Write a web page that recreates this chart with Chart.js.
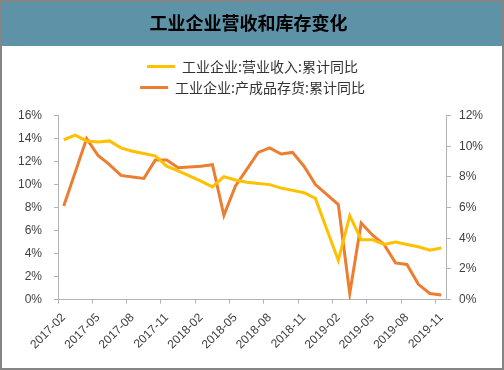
<!DOCTYPE html>
<html>
<head>
<meta charset="utf-8">
<script src="https://cdn.jsdelivr.net/npm/chart.js@4.4.0/dist/chart.umd.min.js"></script>
<style>
  body { margin: 0; background: #fff; }
</style>
</head>
<body>
<canvas id="chart" width="504" height="370"></canvas>
<script>
var months = [
  "2017-02", "2017-03", "2017-04", "2017-05", "2017-06", "2017-07", "2017-08",
  "2017-09", "2017-10", "2017-11", "2017-12", "2018-01", "2018-02", "2018-03",
  "2018-04", "2018-05", "2018-06", "2018-07", "2018-08", "2018-09", "2018-10",
  "2018-11", "2018-12", "2019-01", "2019-02", "2019-03", "2019-04", "2019-05",
  "2019-06", "2019-07", "2019-08", "2019-09", "2019-10", "2019-11",
];

// 工业企业:营业收入:累计同比 (left axis, %)
var revenue_yoy = [
  13.9, 14.3, 13.8, 13.7, 13.8, 13.2, 12.9, 12.7, 12.5, 11.6, 11.2,
  null, 10.3, 9.8, 10.7, 10.4, 10.2, 10.1, 10.0, 9.7, 9.5, 9.3, 8.8,
  null, 3.4, 7.3, 5.2, 5.2, 4.8, 5.0, 4.8, 4.6, 4.3, 4.5,
];

// 工业企业:产成品存货:累计同比 (right axis, %)
var inventory_yoy = [
  6.1, 8.3, 10.5, 9.4, 8.8, 8.1, 8.0, 7.9, 9.1, 9.1, 8.6,
  null, 8.7, 8.8, 5.5, 7.4, 8.5, 9.6, 9.9, 9.5, 9.6, 8.7, 7.5,
  null, 6.2, 0.4, 5.0, 4.2, 3.6, 2.4, 2.3, 1.0, 0.4, 0.3,
];

var shown_months = [
  "2017-02", "2017-05", "2017-08", "2017-11", "2018-02", "2018-05",
  "2018-08", "2018-11", "2019-02", "2019-05", "2019-08", "2019-11",
];

var axisColor = "#b3b3b3";
var tickFont = { family: "'Liberation Sans', Arial, sans-serif", size: 12 };

var frame = {
  id: "frame",
  beforeDraw: function (chart) {
    var c = chart.ctx;
    c.save();
    c.fillStyle = "#ffffff";
    c.fillRect(0, 0, chart.width, chart.height);
    c.fillStyle = "#5e92a7";
    c.fillRect(0, 0, chart.width, 46);
    c.restore();
  },
  afterDraw: function (chart) {
    var c = chart.ctx;
    c.save();
    c.strokeStyle = "#858585";
    c.lineWidth = 2;
    c.strokeRect(1, 1, chart.width - 2, chart.height - 2);
    c.restore();
  },
};

const ctx = document.getElementById("chart");

const chart = new Chart(ctx, {
  type: "line",
  data: {
    labels: months,
    datasets: [
      {
        label: "工业企业:营业收入:累计同比",
        data: revenue_yoy,
        borderColor: "#ffc000",
        backgroundColor: "#ffc000",
        borderWidth: 3,
        pointRadius: 0,
        tension: 0,
        spanGaps: true,
        yAxisID: "y",
      },
      {
        label: "工业企业:产成品存货:累计同比",
        data: inventory_yoy,
        borderColor: "#ed7d31",
        backgroundColor: "#ed7d31",
        borderWidth: 3,
        pointRadius: 0,
        tension: 0,
        spanGaps: true,
        yAxisID: "y1",
      },
    ],
  },
  options: {
    responsive: false,
    animation: false,
    layout: {
      padding: { left: 6, right: 13, top: 0, bottom: 11 },
    },
    plugins: {
      title: {
        display: true,
        text: "工业企业营收和库存变化",
        color: "#000000",
        font: { family: "'Noto Sans CJK SC', sans-serif", size: 18, weight: "bold" },
        padding: { top: 12, bottom: 19 },
      },
      subtitle: {
        // spacer between legend and plot
        display: true,
        text: " ",
        weight: 100,
        font: { size: 11, lineHeight: 1 },
        padding: 0,
      },
      legend: {
        position: "top",
        fullSize: false,
        labels: {
          usePointStyle: true,
          pointStyle: "line",
          pointStyleWidth: 28,
          padding: 7,
          color: "#333333",
          font: { family: "'Noto Sans CJK SC', sans-serif", size: 14 },
        },
      },
      tooltip: { enabled: false },
    },
    scales: {
      x: {
        offset: true,
        grid: {
          offset: true,
          drawOnChartArea: false,
          tickLength: 4,
          color: function (c) {
            return c.index % 3 === 0 ? axisColor : "rgba(0,0,0,0)";
          },
        },
        border: { color: axisColor },
        ticks: {
          autoSkip: false,
          maxRotation: 45,
          minRotation: 45,
          padding: 7,
          color: "#404040",
          font: tickFont,
          callback: function (value) {
            var m = this.getLabelForValue(value);
            return shown_months.indexOf(m) >= 0 ? m : "";
          },
        },
      },
      y: {
        position: "left",
        min: 0,
        max: 16,
        grid: { drawOnChartArea: false, tickLength: 4, color: axisColor },
        border: { color: axisColor },
        ticks: {
          stepSize: 2,
          padding: 12,
          color: "#404040",
          font: tickFont,
          callback: function (v) { return v + "%"; },
        },
      },
      y1: {
        position: "right",
        min: 0,
        max: 12,
        grid: { drawOnChartArea: false, tickLength: 4, color: axisColor },
        border: { color: axisColor },
        ticks: {
          stepSize: 2,
          padding: 8,
          color: "#404040",
          font: tickFont,
          callback: function (v) { return v + "%"; },
        },
      },
    },
  },
  plugins: [frame],
});
</script>
</body>
</html>
